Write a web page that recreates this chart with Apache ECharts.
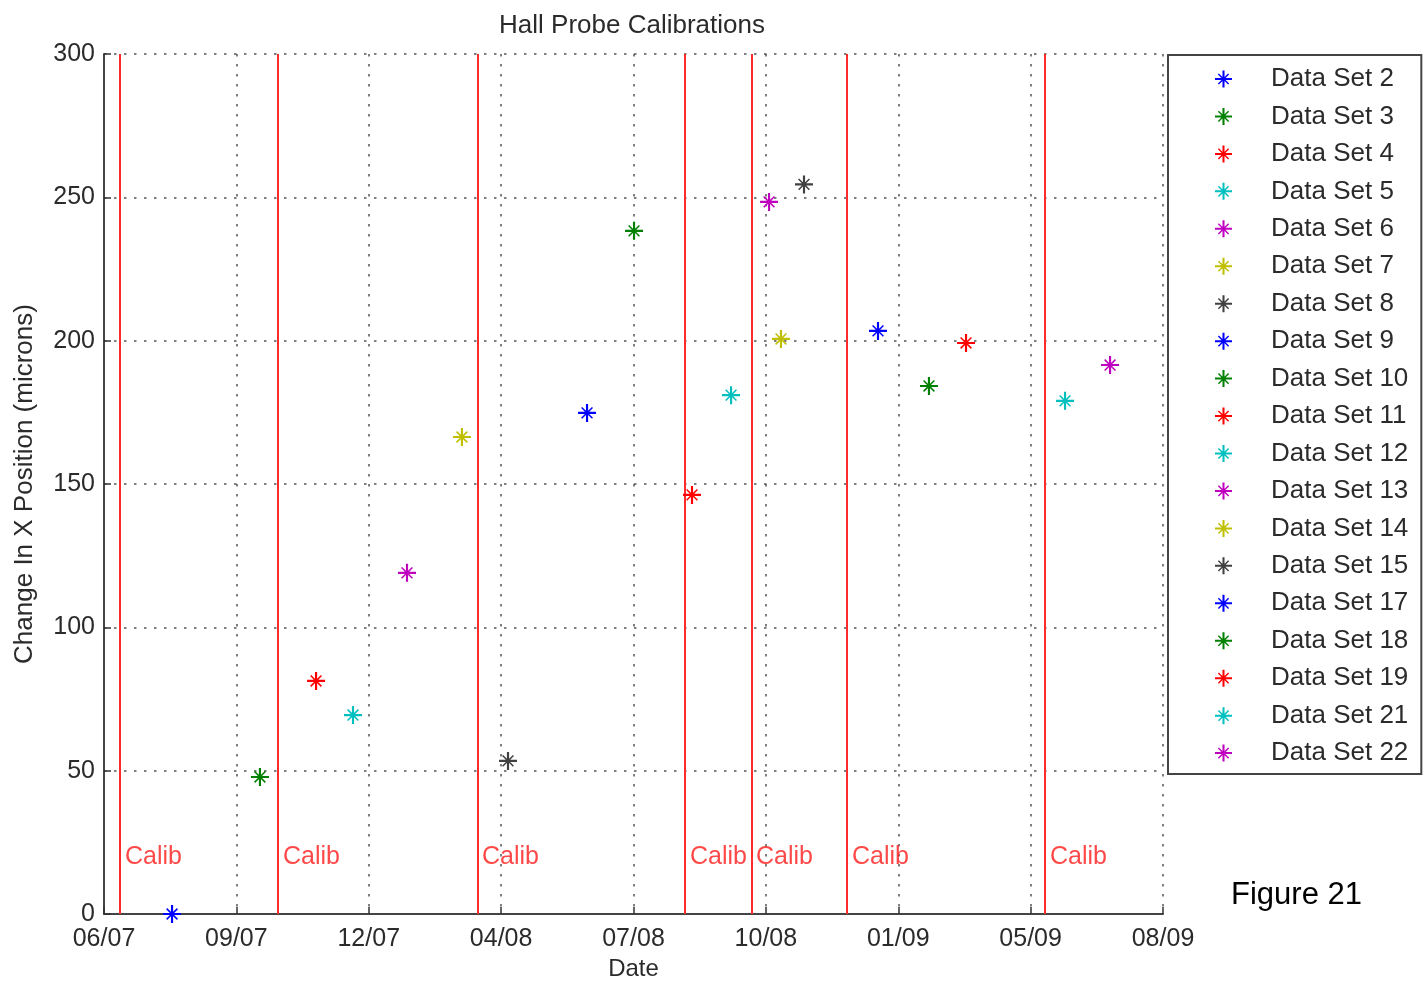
<!DOCTYPE html>
<html>
<head>
<meta charset="utf-8">
<title>Hall Probe Calibrations</title>
<script src="https://cdn.jsdelivr.net/npm/echarts@6/dist/echarts.min.js"></script>
<style>
  html, body { margin: 0; padding: 0; background: #fff; }
  #chart { width: 1424px; height: 984px; }
</style>
</head>
<body>
<div id="chart"></div>
<script>
// Date axis: evenly spaced ticks labelled mm/yy; positions below are in tick units
const tickLabels = ['06/07', '09/07', '12/07', '04/08', '07/08', '10/08', '01/09', '05/09', '08/09'];

const setNames = ['Data Set 2', 'Data Set 3', 'Data Set 4', 'Data Set 5', 'Data Set 6', 'Data Set 7',
  'Data Set 8', 'Data Set 9', 'Data Set 10', 'Data Set 11', 'Data Set 12', 'Data Set 13',
  'Data Set 14', 'Data Set 15', 'Data Set 17', 'Data Set 18', 'Data Set 19', 'Data Set 21', 'Data Set 22'];
const setDates = [0.514, 1.178, 1.602, 1.881, 2.289, 2.704, 3.052, 3.649, 4.004, 4.442, 4.737,
  5.024, 5.114, 5.288, 5.847, 6.232, 6.512, 7.260, 7.600];
const setShift = [0, 47.8, 81.3, 69.4, 119.0, 166.4, 53.4, 174.8, 238.3, 146.2, 181.0,
  248.4, 200.6, 254.5, 203.4, 184.2, 199.2, 179.0, 191.5];

// Calibration dates
const calibDates = [0.121, 1.314, 2.818, 4.389, 4.888, 5.613, 7.109];
const calibLabelLevel = 20;

// MATLAB default colour cycle
const colorCycle = ['#0000ff', '#008000', '#ff0000', '#00bfbf', '#bf00bf', '#bfbf00', '#404040'];

// Asterisk marker: bold plus with shorter thin diagonals
const starPath = 'path://M8.8 0H11.2V20H8.8Z M0 8.8H20V11.2H0Z ' +
  'M4.6 3.4L16.6 15.4L15.4 16.6L3.4 4.6Z M15.4 3.4L16.6 4.6L4.6 16.6L3.4 15.4Z';

const font = '"Liberation Sans", Arial, Helvetica, sans-serif';
const txt = '#2b2b2b';

const series = setNames.map((name, i) => ({
  name: name,
  type: 'scatter',
  symbol: starPath,
  symbolSize: 18,
  symbolKeepAspect: true,
  itemStyle: { color: colorCycle[i % colorCycle.length], opacity: 1 },
  data: [[setDates[i], setShift[i]]],
  z: 5
}));

series.push({
  name: 'calib',
  type: 'scatter',
  symbolSize: 0,
  silent: true,
  data: calibDates.map(d => [d, calibLabelLevel]),
  label: {
    show: true,
    position: 'right',
    distance: 5,
    formatter: 'Calib',
    color: '#ff1a1a',
    fontFamily: font,
    fontSize: 25
  },
  markLine: {
    silent: true,
    symbol: 'none',
    label: { show: false },
    lineStyle: { color: '#ff2a2a', width: 2, type: 'solid' },
    data: calibDates.map(d => ({ xAxis: d }))
  },
  z: 3
});

const chart = echarts.init(document.getElementById('chart'));
chart.setOption({
  animation: false,
  backgroundColor: '#ffffff',
  title: [{
    text: 'Hall Probe Calibrations',
    left: 632,
    textAlign: 'center',
    top: 13,
    padding: 0,
    textStyle: { fontFamily: font, fontSize: 26, fontWeight: 'normal', color: txt }
  }, {
    text: 'Figure 21',
    left: 1231,
    top: 880,
    padding: 0,
    textStyle: { fontFamily: font, fontSize: 31, fontWeight: 'normal', color: '#000' }
  }],
  grid: { left: 104, right: 261, top: 54, bottom: 70, containLabel: false, outerBoundsMode: 'none' },
  xAxis: {
    type: 'value',
    min: 0,
    max: tickLabels.length - 1,
    interval: 1,
    name: 'Date',
    nameLocation: 'middle',
    nameGap: 42,
    nameTextStyle: { fontFamily: font, fontSize: 24, color: txt },
    axisLine: { show: true, onZero: false, lineStyle: { color: '#444', width: 2 } },
    axisTick: { show: true, inside: true, length: 7, lineStyle: { color: '#333', width: 1.5 } },
    axisLabel: {
      formatter: v => tickLabels[Math.round(v)] || '',
      fontFamily: font, fontSize: 25, color: txt, margin: 13
    },
    splitLine: { show: true, lineStyle: { color: '#555', type: [2.5, 7.5], width: 1.5 } }
  },
  yAxis: {
    type: 'value',
    min: 0,
    max: 300,
    interval: 50,
    name: 'Change In X Position (microns)',
    nameLocation: 'middle',
    nameGap: 66,
    nameTextStyle: { fontFamily: font, fontSize: 26, color: txt },
    axisLine: { show: true, onZero: false, lineStyle: { color: '#444', width: 2 } },
    axisTick: { show: true, inside: true, length: 7, lineStyle: { color: '#333', width: 1.5 } },
    axisLabel: { fontFamily: font, fontSize: 25, color: txt, margin: 9 },
    splitLine: { show: true, lineStyle: { color: '#555', type: [2.5, 7.5], width: 1.5 } }
  },
  legend: {
    data: setNames.map(n => ({ name: n, icon: starPath })),
    orient: 'vertical',
    left: 1168,
    top: 55,
    itemWidth: 17,
    itemHeight: 17,
    itemGap: 11.45,
    padding: [11, 13, 8, 47],
    borderColor: '#444',
    borderWidth: 2,
    backgroundColor: '#fff',
    selectedMode: false,
    textStyle: { fontFamily: font, fontSize: 26, color: txt, padding: [0, 0, 0, 34] }
  },
  series: series
});
</script>
</body>
</html>
